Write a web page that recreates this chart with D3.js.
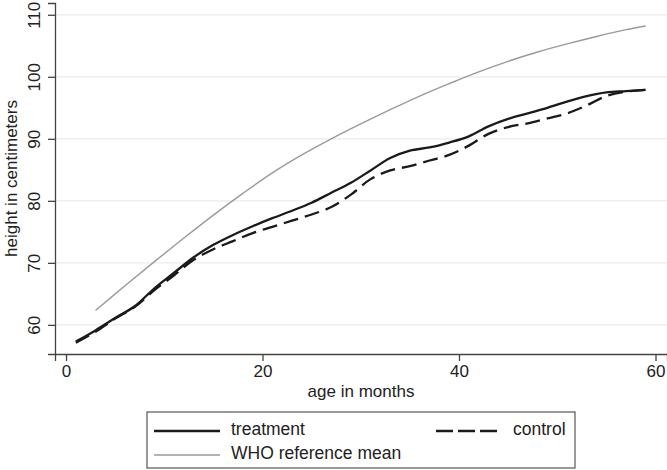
<!DOCTYPE html>
<html lang="en">
<head>
    <meta charset="UTF-8">
    <title>height by age</title>
    <script src="https://cdn.jsdelivr.net/npm/d3@7"></script>
    <style>
        body { margin: 0; background: #fff; }
        text { font-family: "Liberation Sans", Arial, Helvetica, sans-serif; fill: #222; }
    </style>
</head>
<body>
<script>
    // data
    var months = [1,3,5,7,9,11,13,15,17,19,21,23,25,27,29,31,33,35,37,39,41,43,45,47,49,51,53,55,57,59];
    var treatment = [57.3,59.1,61.1,63.0,65.9,68.4,70.9,72.9,74.5,75.9,77.2,78.4,79.7,81.3,82.9,84.9,86.9,88.1,88.6,89.4,90.4,92.0,93.2,94.1,95.0,96.0,96.9,97.5,97.7,97.9];
    var control = [57.1,58.9,61.0,62.9,65.6,68.0,70.5,72.2,73.5,74.8,75.8,76.8,77.8,79.0,81.0,83.5,84.9,85.6,86.5,87.4,88.9,90.8,91.9,92.5,93.3,94.1,95.4,96.9,97.6,97.9];
    var whoMonths = [3,6,9,12,15,18,21,24,27,30,33,36,39,42,45,48,51,54,57,59];
    var whoMean = [62.3,66.3,70.2,74.0,77.7,81.2,84.5,87.4,90.0,92.4,94.7,96.9,98.9,100.8,102.5,104.0,105.3,106.5,107.6,108.2];
    var xTicks = [0,20,40,60];
    var yTicks = [60,70,80,90,100,110];
    var legendNames = ["treatment", "control", "WHO reference mean"];

    var width = 667, height = 470;
    var svg = d3.select('body').append('svg')
            .attr('width', width)
            .attr('height', height);

    var x = d3.scaleLinear().domain([-1.12, 61.17]).range([55, 667]);
    var y = d3.scaleLinear().domain([55.3, 111.9]).range([354, 3]);

    // grid
    svg.selectAll('line.grid')
            .data(yTicks)
            .enter()
            .append('line')
            .attr('x1', 55).attr('x2', 667)
            .attr('y1', function(d){ return y(d); })
            .attr('y2', function(d){ return y(d); })
            .attr('stroke', '#ebebeb')
            .attr('stroke-width', 1.2);

    // axes
    var xAxis = d3.axisBottom(x).tickValues(xTicks).tickSize(7).tickPadding(4);
    var gx = svg.append('g').attr('transform', 'translate(0,354)').call(xAxis);
    gx.select('.domain').attr('stroke', '#444').attr('stroke-width', 1.3);
    gx.selectAll('.tick line').attr('stroke', '#444').attr('stroke-width', 1.3);
    gx.selectAll('.tick text').attr('font-size', 17).attr('fill', '#222')
            .attr('font-family', '"Liberation Sans", Arial, sans-serif');

    var yAxis = d3.axisLeft(y).tickValues(yTicks).tickSize(7).tickPadding(0);
    var gy = svg.append('g').attr('transform', 'translate(55,0)').call(yAxis);
    gy.select('.domain').attr('stroke', '#444').attr('stroke-width', 1.3);
    gy.selectAll('.tick line').attr('stroke', '#444').attr('stroke-width', 1.3);
    gy.selectAll('.tick text')
            .attr('font-size', 17).attr('fill', '#222')
            .attr('font-family', '"Liberation Sans", Arial, sans-serif')
            .attr('text-anchor', 'middle')
            .attr('dy', null)
            .attr('x', null)
            .attr('transform', 'translate(-15,0) rotate(-90)');

    // axis titles
    svg.append('text')
            .attr('x', 361).attr('y', 397)
            .attr('text-anchor', 'middle')
            .attr('font-size', 17)
            .text('age in months');
    svg.append('text')
            .attr('transform', 'translate(17,178.5) rotate(-90)')
            .attr('text-anchor', 'middle')
            .attr('font-size', 17)
            .text('height in centimeters');

    // lines
    var line = d3.line()
            .x(function(d){ return x(d[0]); })
            .y(function(d){ return y(d[1]); })
            .curve(d3.curveCatmullRom);

    svg.append('path')
            .attr('d', line(d3.zip(whoMonths, whoMean)))
            .attr('fill', 'none')
            .attr('stroke', '#9a9a9a')
            .attr('stroke-width', 1.4);
    svg.append('path')
            .attr('d', line(d3.zip(months, control)))
            .attr('fill', 'none')
            .attr('stroke', '#1a1a1a')
            .attr('stroke-width', 2.3)
            .attr('stroke-dasharray', '15,7');
    svg.append('path')
            .attr('d', line(d3.zip(months, treatment)))
            .attr('fill', 'none')
            .attr('stroke', '#1a1a1a')
            .attr('stroke-width', 2.3);

    // legend
    var lg = svg.append('g');
    lg.append('rect')
            .attr('x', 147).attr('y', 412)
            .attr('width', 428).attr('height', 56)
            .attr('fill', '#fff')
            .attr('stroke', '#555')
            .attr('stroke-width', 1.2);
    var items = [
        {name: legendNames[0], x: 154, y: 431, color: '#1a1a1a', w: 2.3, dash: null},
        {name: legendNames[1], x: 436, y: 431, color: '#1a1a1a', w: 2.3, dash: '17,5'},
        {name: legendNames[2], x: 154, y: 455, color: '#9a9a9a', w: 1.4, dash: null}
    ];
    items.forEach(function(d){
        lg.append('line')
                .attr('x1', d.x).attr('x2', d.x + 66)
                .attr('y1', d.y).attr('y2', d.y)
                .attr('stroke', d.color)
                .attr('stroke-width', d.w)
                .attr('stroke-dasharray', d.dash);
        lg.append('text')
                .attr('x', d.x + 77).attr('y', d.y + 4)
                .attr('font-size', 17.5)
                .text(d.name);
    });
</script>
</body>
</html>
